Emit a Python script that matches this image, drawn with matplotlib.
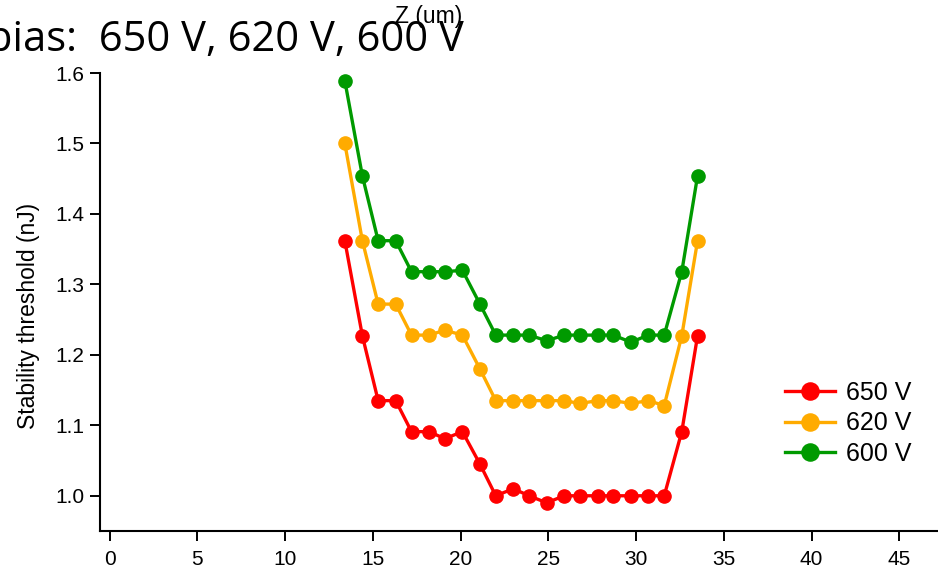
#!/usr/bin/env python3

import matplotlib
matplotlib.use('Agg')
import matplotlib.pyplot as plt

# Z position (um)
z = [13.4, 14.4, 15.3, 16.3, 17.2, 18.2, 19.1, 20.1, 21.1, 22.0, 23.0,
     23.9, 24.9, 25.9, 26.8, 27.8, 28.7, 29.7, 30.7, 31.6, 32.6, 33.5]

# stability threshold (nJ) per bias voltage
thr_650 = [1.362, 1.227, 1.135, 1.135, 1.091, 1.091, 1.081, 1.091, 1.045, 1.0, 1.01,
           1.0, 0.99, 1.0, 1.0, 1.0, 1.0, 1.0, 1.0, 1.0, 1.091, 1.227]
thr_620 = [1.5, 1.362, 1.272, 1.272, 1.228, 1.228, 1.235, 1.228, 1.18, 1.135, 1.135,
           1.135, 1.135, 1.135, 1.131, 1.135, 1.135, 1.131, 1.135, 1.128, 1.227, 1.362]
thr_600 = [1.589, 1.454, 1.362, 1.362, 1.318, 1.318, 1.318, 1.32, 1.272, 1.228, 1.228,
           1.228, 1.22, 1.228, 1.228, 1.228, 1.228, 1.218, 1.228, 1.228, 1.318, 1.454]

labels = ["650 V", "620 V", "600 V"]
colors = ["#ff0000", "#ffab00", "#009a00"]

plt.rcParams['font.family'] = ['Liberation Sans', 'DejaVu Sans']

fig = plt.figure(figsize=(9.38, 5.75), dpi=100)
ax = fig.add_axes([100/938, 1 - 531/575, 1 - 100/938, (531 - 73)/575])

for y, lab, c in zip([thr_650, thr_620, thr_600], labels, colors):
    ax.plot(z, y, color=c, lw=2.4, marker='o', ms=9.5, label=lab)

ax.set_xlim(-0.55, 47.2)
ax.set_ylim(0.95, 1.6)
ax.set_xticks(range(0, 50, 5))
ax.set_yticks([1.0, 1.1, 1.2, 1.3, 1.4, 1.5, 1.6])
ax.set_yticklabels(["1.0", "1.1", "1.2", "1.3", "1.4", "1.5", "1.6"])

for s in ["top", "right"]:
    ax.spines[s].set_visible(False)
ax.spines["left"].set_linewidth(1.5)
ax.spines["bottom"].set_linewidth(1.5)
ax.tick_params(axis='both', direction='out', length=7.5, width=1.4, labelsize=15)
ax.tick_params(axis='y', pad=4)
ax.tick_params(axis='x', pad=6)

ax.set_ylabel("Stability threshold (nJ)", fontsize=16.5)
ax.yaxis.set_label_coords(-0.072, 0.47)
fig.text(429/938, 1 - 17/575, "Z (um)", fontsize=16.5, ha='center', va='center')
fig.text(-0.014, 1 - 40/575, "bias:  650 V, 620 V, 600 V", fontsize=30,
         family=['Open Sans', 'DejaVu Sans'], ha='left', va='center')

ax.legend(loc='center left', bbox_to_anchor=(0.79, 0.235), frameon=False,
          fontsize=18, handlelength=2.0, handletextpad=0.45, labelspacing=0.25,
          markerscale=1.3)

plt.savefig("out.png", dpi=100)
